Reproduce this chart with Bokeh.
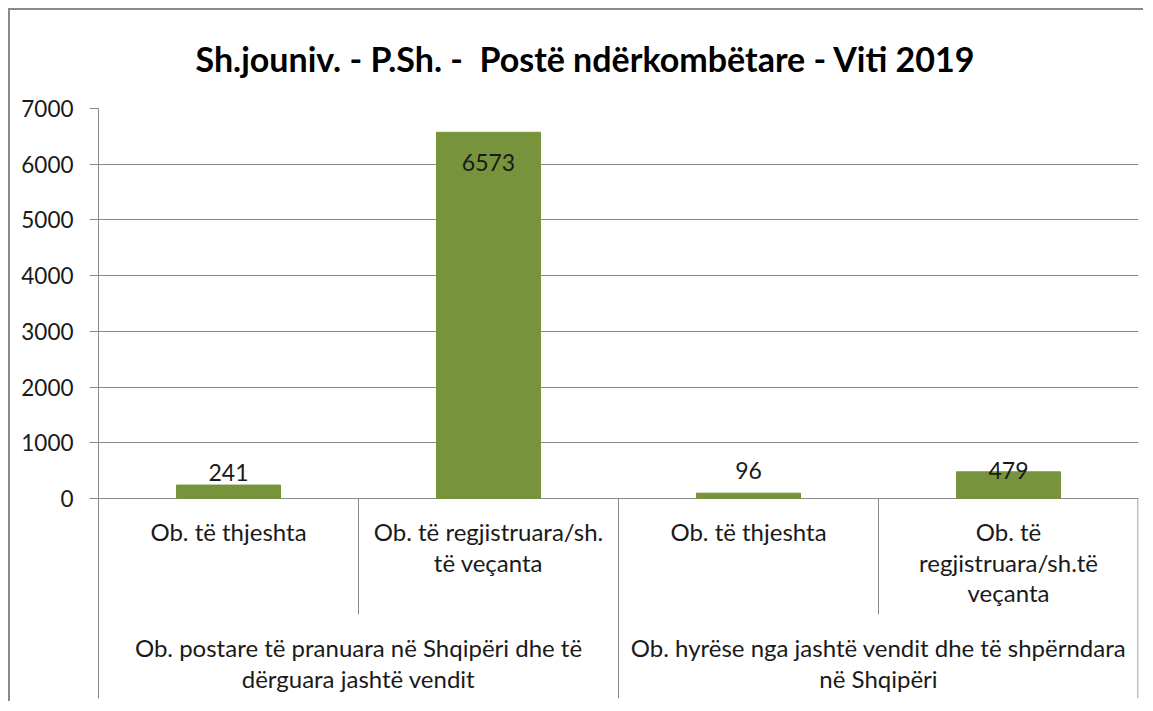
from bokeh.plotting import figure
from bokeh.models import ColumnDataSource, Range1d, FixedTicker, Title
from bokeh.core.properties import value
from bokeh.embed import file_html
from bokeh.resources import INLINE

# ---- data ----
title_text = "Sh.jouniv. - P.Sh. -\u00a0 Postë ndërkombëtare - Viti 2019"
groups = [
    "Ob. postare të pranuara në Shqipëri dhe të\ndërguara jashtë vendit",
    "Ob. hyrëse nga jashtë vendit dhe të shpërndara\nnë Shqipëri",
]
group_sizes = [2, 2]
categories = [
    "Ob. të thjeshta",
    "Ob. të regjistruara/sh.\ntë veçanta",
    "Ob. të thjeshta",
    "Ob. të\nregjistruara/sh.të\nveçanta",
]
values = [241, 6573, 96, 479]
y_ticks = [0, 1000, 2000, 3000, 4000, 5000, 6000, 7000]

# ---- styles ----
FONT = "Lato"
BAR = "#77933C"
GRID = "#898989"
label_offsets = [-13, 30, -23, -1]   # pixel shifts of data labels (as in original)
Y_MIN = -3590
LEVEL1_BOTTOM = -2082

n = len(categories)
xc = [i + 0.5 for i in range(n)]

p = figure(width=1135, height=693, output_backend="svg", toolbar_location=None,
           x_range=Range1d(0, n), y_range=Range1d(Y_MIN, max(y_ticks)),
           x_axis_type=None, min_border_left=88, min_border_right=7,
           min_border_top=98, min_border_bottom=5)
p.outline_line_color = None
p.background_fill_color = "white"
p.border_fill_color = "white"
p.margin = (8, 0, 0, 8)
p.styles = {"border-left": "2px solid #8a8a8a", "border-top": "2px solid #8a8a8a"}

t = Title(text=title_text, align="left", vertical_align="top", text_font=FONT,
          text_font_size="34px", text_font_style="bold", text_color="black",
          standoff=55, offset=97)
p.add_layout(t, "above")

# y axis
ax = p.yaxis[0]
ax.ticker = FixedTicker(ticks=y_ticks)
ax.axis_line_color = GRID
ax.major_tick_line_color = GRID
ax.major_tick_out = 9
ax.major_tick_in = 0
ax.minor_tick_line_color = None
ax.major_label_text_font = FONT
ax.major_label_text_font_size = "22.5px"
ax.major_label_text_color = "#1a1a1a"
ax.major_label_standoff = 16

p.ygrid.ticker = FixedTicker(ticks=y_ticks)
p.ygrid.grid_line_color = GRID
p.xgrid.visible = False

# bars
src = ColumnDataSource(dict(x=xc, top=values, lbl=[str(v) for v in values],
                            off=label_offsets))
p.vbar(x="x", top="top", width=0.4, bottom=0, source=src, fill_color=BAR,
       line_color=BAR)
p.text(x="x", y="top", text="lbl", y_offset="off", source=src,
       text_align="center", text_baseline="middle", text_font=value(FONT),
       text_font_size="23px", text_color="#1a1a1a")

# category separators
bounds = []
pos = 0
for gs in group_sizes:
    for k in range(1, gs):
        bounds.append((pos + k, LEVEL1_BOTTOM))
    pos += gs
    bounds.append((min(pos, n - 0.002), Y_MIN))
p.segment(x0=[b[0] for b in bounds], y0=[0] * len(bounds),
          x1=[b[0] for b in bounds], y1=[b[1] for b in bounds],
          line_color=GRID, line_width=1)

# level-1 labels
p.text(x=xc, y=[0] * n, text=categories, y_offset=19, text_align="center",
       text_baseline="top", text_font=value(FONT), text_font_size="24px",
       text_color="#1a1a1a", text_line_height=1.05)

# level-2 labels
gx = []
pos = 0
for gs in group_sizes:
    gx.append(pos + gs / 2)
    pos += gs
p.text(x=gx, y=[0] * len(gx), text=groups, y_offset=135, text_align="center",
       text_baseline="top", text_font=value(FONT), text_font_size="24px",
       text_color="#1a1a1a", text_line_height=1.05)

open("out.html", "w").write(file_html(p, INLINE))
